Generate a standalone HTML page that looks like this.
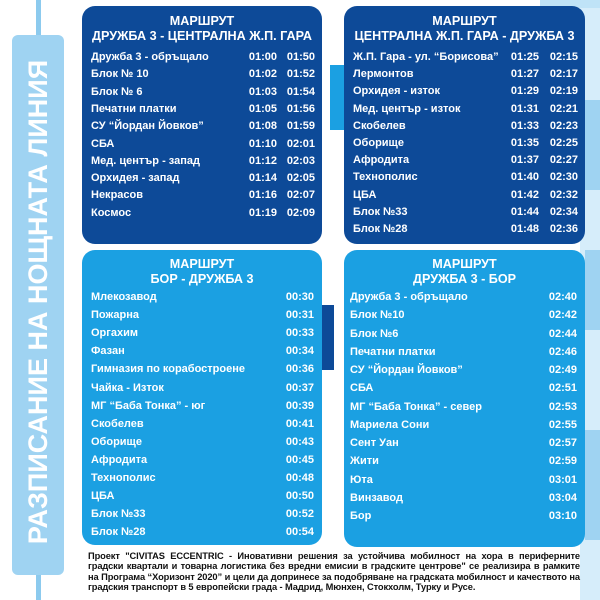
<!DOCTYPE html>
<html><head><meta charset="utf-8"><style>
body{margin:0;width:600px;height:600px;position:relative;overflow:hidden;background:#fff;font-family:"Liberation Sans","DejaVu Sans",sans-serif;font-weight:bold;color:#fff}
.a{position:absolute}
.box{position:absolute;border-radius:13px}
.dk{background:#0d4a98}
.lt{background:#1ba0e2}
.t{position:absolute;left:0;right:0;text-align:center;font-size:12.6px;line-height:15px}
.r{position:absolute;font-size:11px;white-space:nowrap}
.tm{position:absolute;font-size:11px;text-align:right;width:40px}
</style></head><body>
<div class="a" style="left:580px;top:0;width:20px;height:600px;background:#d6edfa"></div>
<div class="a" style="left:540px;top:0;width:60px;height:8px;background:#bfe3f7"></div>
<div class="a" style="left:585px;top:100px;width:15px;height:90px;background:#9fd3f2"></div>
<div class="a" style="left:585px;top:250px;width:15px;height:80px;background:#9fd3f2"></div>
<div class="a" style="left:585px;top:430px;width:15px;height:110px;background:#9fd3f2"></div>
<div class="a" style="left:330px;top:65px;width:18px;height:65px;background:#1ba0e2"></div>
<div class="a" style="left:318px;top:305px;width:16px;height:65px;background:#0d4a98"></div>
<div class="a" style="left:36px;top:0;width:5px;height:600px;background:#8ccaee"></div>
<div class="a" style="left:12px;top:35px;width:52px;height:540px;background:#9fd3f2;border-radius:6px"></div>
<div class="a" style="left:38px;top:302px;width:0;height:0"><div style="position:absolute;left:-270px;top:-18px;width:540px;text-align:center;transform:rotate(-90deg);font-size:27px;line-height:36px;color:#fff;white-space:nowrap">РАЗПИСАНИЕ НА НОЩНАТА ЛИНИЯ</div></div>

<div class="box dk" style="left:82px;top:6px;width:240px;height:238px"></div>
<div class="box dk" style="left:344px;top:6px;width:241px;height:238px"></div>
<div class="box lt" style="left:82px;top:250px;width:240px;height:295px"></div>
<div class="box lt" style="left:344px;top:250px;width:241px;height:297px"></div>

<div id="c"></div>
<div class="a" style="left:88px;top:551px;width:492px;font-size:9.3px;line-height:10.3px;color:#111;text-align:justify;letter-spacing:-0.1px">Проект "CIVITAS ECCENTRIC - Иновативни решения за устойчива мобилност на хора в периферните градски квартали и товарна логистика без вредни емисии в градските центрове" се реализира в рамките на Програма “Хоризонт 2020” и цели да допринесе за подобряване на градската мобилност и качеството на градския транспорт в 5 европейски града - Мадрид, Мюнхен, Стокхолм, Турку и Русе.</div>
<script>
function box(x,w,top,title,rows,y0,dy,nx,t1,t2){
 let h='<div class="a" style="left:'+x+'px;top:'+top+'px;width:'+w+'px"><div class="t" style="top:0">МАРШРУТ<br>'+title+'</div></div>';
 rows.forEach((r,i)=>{let y=y0+i*dy-7;
  h+='<div class="r" style="left:'+nx+'px;top:'+y+'px">'+r[0]+'</div>';
  if(r.length==3){h+='<div class="tm" style="left:'+(t1-40)+'px;top:'+y+'px">'+r[1]+'</div><div class="tm" style="left:'+(t2-40)+'px;top:'+y+'px">'+r[2]+'</div>';}
  else h+='<div class="tm" style="left:'+(t2-40)+'px;top:'+y+'px">'+r[1]+'</div>';
 });return h;}
let H='';
H+=box(82,240,14,'ДРУЖБА 3 - ЦЕНТРАЛНА Ж.П. ГАРА',[["Дружба 3 - обръщало","01:00","01:50"],["Блок № 10","01:02","01:52"],["Блок № 6","01:03","01:54"],["Печатни платки","01:05","01:56"],["СУ “Йордан Йовков”","01:08","01:59"],["СБА","01:10","02:01"],["Мед. център - запад","01:12","02:03"],["Орхидея - запад","01:14","02:05"],["Некрасов","01:16","02:07"],["Космос","01:19","02:09"]],58,17.3,91,277,315);
H+=box(344,241,14,'ЦЕНТРАЛНА Ж.П. ГАРА - ДРУЖБА 3',[["Ж.П. Гара - ул. “Борисова”","01:25","02:15"],["Лермонтов","01:27","02:17"],["Орхидея - изток","01:29","02:19"],["Мед. център - изток","01:31","02:21"],["Скобелев","01:33","02:23"],["Оборище","01:35","02:25"],["Афродита","01:37","02:27"],["Технополис","01:40","02:30"],["ЦБА","01:42","02:32"],["Блок №33","01:44","02:34"],["Блок №28","01:48","02:36"]],58,17.2,353,539,578);
H+=box(82,240,257,'БОР - ДРУЖБА 3',[["Млекозавод","00:30"],["Пожарна","00:31"],["Оргахим","00:33"],["Фазан","00:34"],["Гимназия по корабостроене","00:36"],["Чайка - Изток","00:37"],["МГ “Баба Тонка” - юг","00:39"],["Скобелев","00:41"],["Оборище","00:43"],["Афродита","00:45"],["Технополис","00:48"],["ЦБА","00:50"],["Блок №33","00:52"],["Блок №28","00:54"]],298,18.1,91,0,314);
H+=box(344,241,257,'ДРУЖБА 3 - БОР',[["Дружба 3 - обръщало","02:40"],["Блок №10","02:42"],["Блок №6","02:44"],["Печатни платки","02:46"],["СУ “Йордан Йовков”","02:49"],["СБА","02:51"],["МГ “Баба Тонка” - север","02:53"],["Мариела Сони","02:55"],["Сент Уан","02:57"],["Жити","02:59"],["Юта","03:01"],["Винзавод","03:04"],["Бор","03:10"]],298,18.25,350,0,577);
document.getElementById('c').innerHTML=H;
</script>
</body></html>
